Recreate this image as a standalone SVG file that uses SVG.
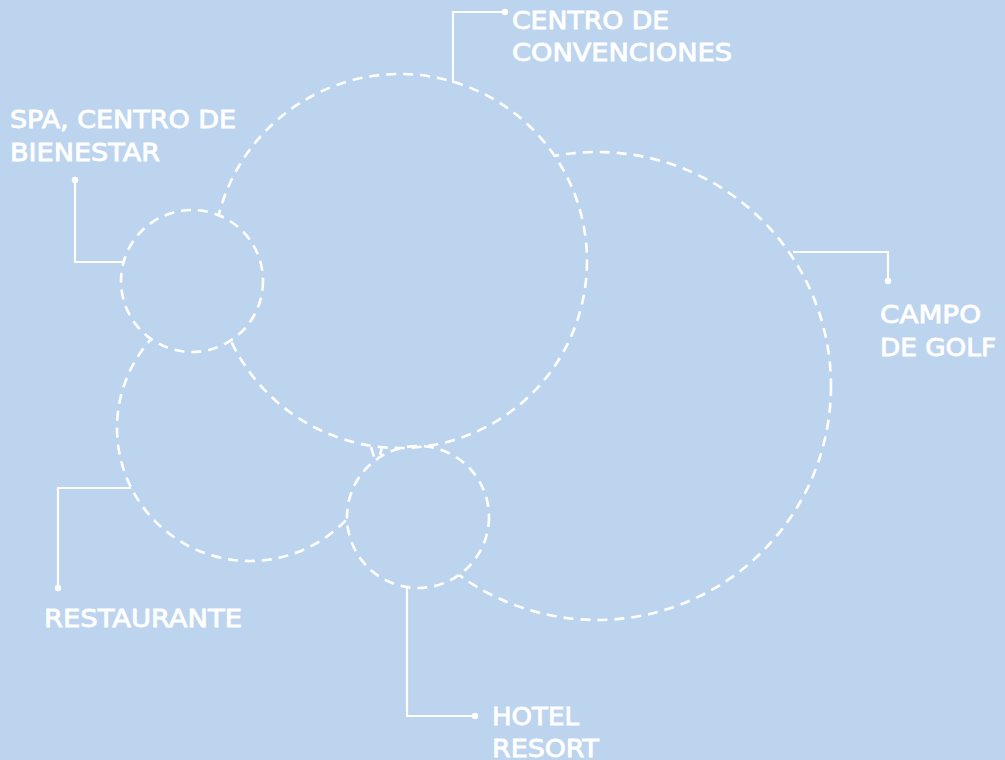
<svg xmlns="http://www.w3.org/2000/svg" width="1005" height="760" viewBox="0 0 1005 760">
  <defs>
    <style>
      .ring { fill: none; stroke: #ffffff; stroke-width: 2.6; stroke-dasharray: 10 7; }
      .conn { fill: none; stroke: #ffffff; stroke-width: 2.2; }
      .dot { fill: #ffffff; }
      .lbl { font-family: "DejaVu Sans", "Verdana", sans-serif; font-size: 24px; fill: #ffffff; stroke: #ffffff; stroke-width: 0.8; }
    </style>
    <mask id="m-big" maskUnits="userSpaceOnUse" x="0" y="0" width="1005" height="760">
      <rect width="1005" height="760" fill="#fff"/>
      <circle cx="192" cy="281" r="71" fill="#000"/>
    </mask>
    <mask id="m-golf" maskUnits="userSpaceOnUse" x="0" y="0" width="1005" height="760">
      <rect width="1005" height="760" fill="#fff"/>
      <circle cx="400" cy="261" r="187" fill="#000"/>
      <circle cx="418" cy="517" r="71" fill="#000"/>
    </mask>
    <mask id="m-rest" maskUnits="userSpaceOnUse" x="0" y="0" width="1005" height="760">
      <rect width="1005" height="760" fill="#fff"/>
      <circle cx="192" cy="281" r="71" fill="#000"/>
      <circle cx="400" cy="261" r="187" fill="#000"/>
      <circle cx="418" cy="517" r="71" fill="#000"/>
    </mask>
  </defs>
  <rect width="1005" height="760" fill="#bdd4ef"/>

  <g id="convenciones">
    <circle class="ring" cx="400" cy="261" r="187" mask="url(#m-big)"/>
    <text class="lbl" x="512" y="29" textLength="157" lengthAdjust="spacingAndGlyphs">CENTRO DE</text>
    <text class="lbl" x="512" y="61" textLength="220" lengthAdjust="spacingAndGlyphs">CONVENCIONES</text>
  </g>
  <g id="spa">
    <circle class="ring" cx="192" cy="281" r="71"/>
    <text class="lbl" x="10" y="128" textLength="226" lengthAdjust="spacingAndGlyphs">SPA, CENTRO DE</text>
    <text class="lbl" x="10" y="161" textLength="150" lengthAdjust="spacingAndGlyphs">BIENESTAR</text>
  </g>
  <g id="golf">
    <circle class="ring" cx="597" cy="386" r="234" mask="url(#m-golf)"/>
    <text class="lbl" x="880" y="323" textLength="101" lengthAdjust="spacingAndGlyphs">CAMPO</text>
    <text class="lbl" x="880" y="356" textLength="116" lengthAdjust="spacingAndGlyphs">DE GOLF</text>
  </g>
  <g id="restaurante">
    <circle class="ring" cx="250" cy="428" r="133" mask="url(#m-rest)"/>
    <text class="lbl" x="44" y="627" textLength="198" lengthAdjust="spacingAndGlyphs">RESTAURANTE</text>
  </g>
  <g id="hotel">
    <circle class="ring" cx="418" cy="517" r="71"/>
    <text class="lbl" x="492" y="725" textLength="87" lengthAdjust="spacingAndGlyphs">HOTEL</text>
    <text class="lbl" x="492" y="757" textLength="107" lengthAdjust="spacingAndGlyphs">RESORT</text>
  </g>

  <g id="connectors">
    <polyline class="conn" points="453,83 453,12 505,12"/>
    <circle class="dot" cx="505" cy="12" r="3.2"/>
    <polyline class="conn" points="75,180 75,262 124,262"/>
    <circle class="dot" cx="75" cy="180" r="3.2"/>
    <polyline class="conn" points="793,252 888,252 888,281"/>
    <circle class="dot" cx="888" cy="281" r="3.2"/>
    <polyline class="conn" points="131,488 58,488 58,588"/>
    <circle class="dot" cx="58" cy="588" r="3.2"/>
    <polyline class="conn" points="407,588 407,716 475,716"/>
    <circle class="dot" cx="475" cy="716" r="3.2"/>
  </g>
</svg>
